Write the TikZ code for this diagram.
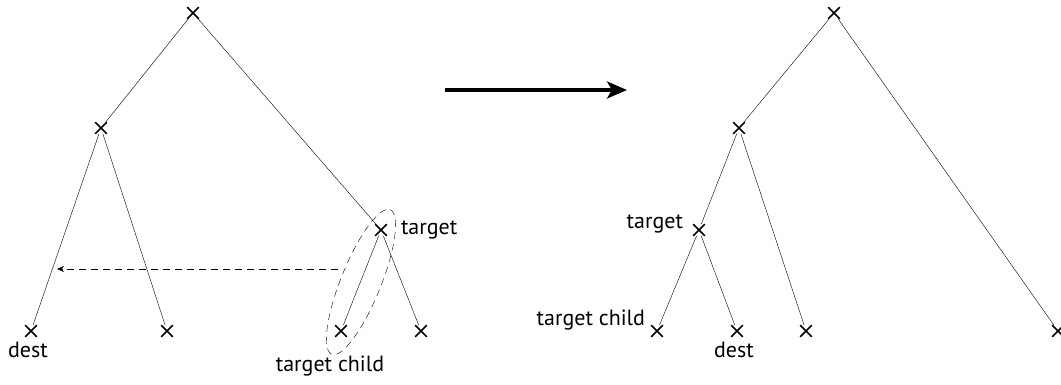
\documentclass[tikz,border=0pt]{standalone}
\usepackage{fontspec}
\setmainfont{PT Sans}
\usetikzlibrary{positioning}
\usetikzlibrary{shapes.misc}
\usetikzlibrary{arrows.meta}
\tikzset{cross/.style={cross out, draw=black, line width=1.7pt, minimum size=2*(#1-\pgflinewidth), inner sep=0pt, outer sep=0pt},
	%default half size of a cross
	cross/.default={7.5pt},
	edge/.style={thin},
	moved/.style={thin, dash pattern=on 7pt off 5pt},
	lbl/.style={font=\fontsize{22}{26}\selectfont, inner sep=1pt}}

\begin{document}
\begin{tikzpicture}[x=1pt, y=-1pt]
		\useasboundingbox (0,0) rectangle (1061,385);
		% left tree
		\node[cross] (L0) at (193,13) {};
		\node[cross] (L1) at (101,128) {};
		\node[cross] (L2) at (381,230) {};
		\node[cross] (L3) at (31,331) {};
		\node[cross] (L4) at (167,331) {};
		\node[cross] (L5) at (341,331) {};
		\node[cross] (L6) at (421,331) {};
		\draw[edge] (L0) -- (L1);
		\draw[edge] (L0) -- (L2);
		\draw[edge] (L1) -- (L3);
		\draw[edge] (L1) -- (L4);
		\draw[edge] (L2) -- (L5);
		\draw[edge] (L2) -- (L6);
		\node[lbl, right=13pt of L2] (Ltarget) {target};
		\node[lbl, below=4pt of L3, xshift=-3pt] (Ldest) {dest};
		\node[lbl, below=18pt of L5, xshift=-11pt] (Lchild) {target child};
		\draw[moved] (361,282) ellipse[x radius=78, y radius=20, rotate=68];
		\coordinate (from) at (338,269);
		\coordinate (to) at (57,269);
		\draw[moved, -{Stealth[length=7pt, width=6pt]}] (from) -- (to);
		% arrow between trees
		\coordinate (go1) at (445,90);
		\coordinate (go2) at (627,90);
		\draw[line width=3.6pt, -{Stealth[length=20pt, width=17pt, inset=5pt]}] (go1) -- (go2);
		% right tree
		\node[cross] (R0) at (834,13) {};
		\node[cross] (R1) at (739,128) {};
		\node[cross] (R2) at (699,230) {};
		\node[cross] (R3) at (657,331) {};
		\node[cross] (R4) at (737,331) {};
		\node[cross] (R5) at (806,331) {};
		\node[cross] (R6) at (1058,331) {};
		\draw[edge] (R0) -- (R1);
		\draw[edge] (R0) -- (R6);
		\draw[edge] (R1) -- (R2);
		\draw[edge] (R1) -- (R5);
		\draw[edge] (R2) -- (R3);
		\draw[edge] (R2) -- (R4);
		\node[lbl, above left=-10pt and 9pt of R2] (Rtarget) {target};
		\node[lbl, above left=-6pt and 5pt of R3] (Rchild) {target child};
		\node[lbl, below=4pt of R4, xshift=-3pt] (Rdest) {dest};
	\end{tikzpicture}
\end{document}
